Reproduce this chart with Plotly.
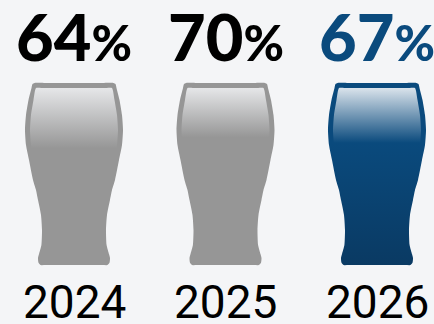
import plotly.graph_objects as go

# Chart data
years = ["2024", "2025", "2026"]
shares = [64, 70, 67]
label_colors = ["#000000", "#000000", "#0a4a7d"]
glass_tops = ["#e6e7e9", "#e6e7e9", "#dbe4ec"]
glass_levels = ["#969696", "#969696", "#0a4a7d"]
glass_bases = ["#969696", "#969696", "#0a3a63"]

# Pint-glass silhouette: height in percent of the glass, half-width in pixels
outer_height = [0, 0, 1.2, 3.8, 6, 11, 19.2, 27.5, 35.7, 41.2, 46.7, 57.7, 65.9, 74.2, 82.4, 90.7, 97.3, 99.4, 100, 100]
outer_width = [30, 33.5, 35.5, 36, 35, 32.6, 32, 33, 36, 38, 41, 45, 48, 49, 48, 45.5, 42.5, 41.5, 39.5, 30]

# Inner wall of the glass, where the drink is drawn
inner_height = [0, 5, 11, 19.2, 27.5, 35.7, 41.2, 46.7, 57.7, 65.9, 74.2, 82.4, 90.7, 97.25, 97.25]
inner_width = [27, 29, 27.6, 27, 28, 31, 33, 36, 40, 43, 44, 43, 40.5, 38, 30]
INNER_TOP = 97.25

X_PX = 151.5
Y_PX = 1.82


def silhouette(center, heights, widths):
    right_x = [center + w / X_PX for w in widths]
    left_x = [center - w / X_PX for w in reversed(widths)]
    return right_x + left_x, heights + heights[::-1]


fig = go.Figure()

for i, (year, share) in enumerate(zip(years, shares)):
    wall_x, wall_y = silhouette(i, outer_height, outer_width)
    fig.add_trace(go.Scatter(
        x=wall_x, y=wall_y, mode="lines", hoverinfo="skip",
        line=dict(width=0, shape="spline", smoothing=0.6),
        fill="toself",
        fillgradient=dict(
            type="vertical",
            colorscale=[[0, glass_bases[i]], [share / 100, glass_levels[i]], [1, glass_levels[i]]],
        ),
    ))
    drink_x, drink_y = silhouette(i, inner_height, inner_width)
    fig.add_trace(go.Scatter(
        x=drink_x, y=drink_y, mode="lines", hoverinfo="skip",
        line=dict(width=0, shape="spline", smoothing=0.5),
        fill="toself",
        fillgradient=dict(
            type="vertical",
            colorscale=[[0, glass_bases[i]], [share / INNER_TOP, glass_levels[i]], [1, glass_tops[i]]],
        ),
    ))
    fig.add_annotation(
        x=i, y=-21.5, text=year, showarrow=False, yshift=2, height=42,
        font=dict(family="Roboto", size=46, color="#000000"),
    )
    fig.add_annotation(
        x=i, y=125.5, showarrow=False, yshift=1, height=56,
        text=f"{share}<span style='font-size:49px'>%</span>",
        font=dict(family="Lato", size=65, color=label_colors[i], weight=900),
    )

fig.update_layout(
    width=434, height=324,
    margin=dict(l=0, r=0, t=0, b=0),
    paper_bgcolor="#f4f5f7", plot_bgcolor="#f4f5f7",
    showlegend=False,
    xaxis=dict(range=[-74 / X_PX, (434 - 74) / X_PX], visible=False, fixedrange=True),
    yaxis=dict(range=[(265 - 324) / Y_PX, 265 / Y_PX], visible=False, fixedrange=True),
)

fig.write_html("out.html", config={"displayModeBar": False})
